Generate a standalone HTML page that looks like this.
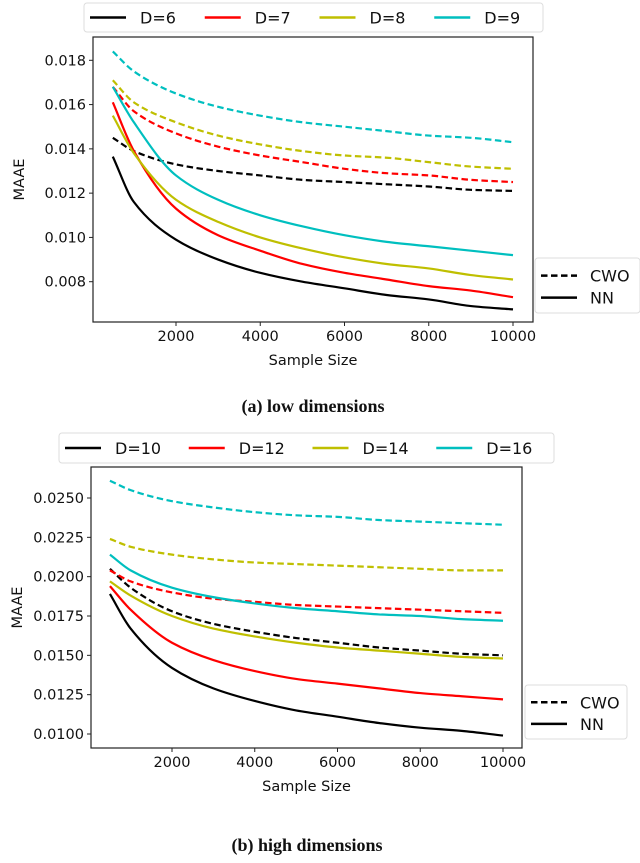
<!DOCTYPE html>
<html><head><meta charset="utf-8"><style>
html,body{margin:0;padding:0;background:#fff;}
body{width:640px;height:858px;overflow:hidden;}
svg text{font-family:"DejaVu Sans","Liberation Sans",sans-serif;}
.cap{font-family:"Liberation Serif",serif;font-weight:bold;font-size:18px;}
</style></head><body>
<svg id="svg" width="640" height="858" viewBox="0 0 640 858" xmlns="http://www.w3.org/2000/svg"></svg>
<script>
const xCats=[500,1000,2000,3000,4000,5000,6000,7000,8000,9000,10000];
const xTicks=[2000,4000,6000,8000,10000];
const colors=["#000000","#ff0000","#bfbf00","#00bfbf"];
// Chart (a)
const aLabels=["D=6","D=7","D=8","D=9"];
const aTicks=[0.008,0.010,0.012,0.014,0.016,0.018];
const aNN6=[0.01365,0.0116,0.0099,0.0090,0.0084,0.0080,0.0077,0.0074,0.0072,0.0069,0.00675];
const aNN7=[0.0161,0.0139,0.0113,0.0101,0.0094,0.0088,0.0084,0.0081,0.0078,0.0076,0.0073];
const aNN8=[0.0155,0.0138,0.0117,0.0107,0.0100,0.0095,0.0091,0.0088,0.0086,0.0083,0.0081];
const aNN9=[0.0168,0.0152,0.0128,0.0117,0.0110,0.0105,0.0101,0.0098,0.0096,0.0094,0.0092];
const aCWO6=[0.0145,0.0139,0.0133,0.0130,0.0128,0.0126,0.0125,0.0124,0.0123,0.01215,0.0121];
const aCWO7=[0.0168,0.0157,0.0147,0.0141,0.0137,0.0134,0.0131,0.0129,0.0128,0.0126,0.0125];
const aCWO8=[0.0171,0.0161,0.0152,0.0146,0.0142,0.0139,0.0137,0.0136,0.0134,0.0132,0.0131];
const aCWO9=[0.0184,0.0175,0.0165,0.0159,0.0155,0.0152,0.0150,0.0148,0.0146,0.0145,0.0143];
// Chart (b)
const bLabels=["D=10","D=12","D=14","D=16"];
const bTicks=[0.0100,0.0125,0.0150,0.0175,0.0200,0.0225,0.0250];
const bNN10=[0.0189,0.0167,0.0142,0.0129,0.0121,0.0115,0.0111,0.0107,0.0104,0.0102,0.0099];
const bNN12=[0.0194,0.0179,0.0158,0.0147,0.0140,0.0135,0.0132,0.0129,0.0126,0.0124,0.0122];
const bNN14=[0.0197,0.0188,0.0175,0.0167,0.0162,0.0158,0.0155,0.0153,0.0151,0.0149,0.0148];
const bNN16=[0.0214,0.0204,0.0193,0.0187,0.0183,0.0180,0.0178,0.0176,0.0175,0.0173,0.0172];
const bCWO10=[0.0205,0.0193,0.0178,0.0170,0.0165,0.0161,0.0158,0.0155,0.0153,0.0151,0.0150];
const bCWO12=[0.0204,0.0197,0.0190,0.0186,0.0184,0.0182,0.0181,0.0180,0.0179,0.0178,0.0177];
const bCWO14=[0.0224,0.0219,0.0214,0.0211,0.0209,0.0208,0.0207,0.0206,0.0205,0.0204,0.0204];
const bCWO16=[0.0261,0.0255,0.0248,0.0244,0.0241,0.0239,0.0238,0.0236,0.0235,0.0234,0.0233];

const NS="http://www.w3.org/2000/svg";
const svg=document.getElementById('svg');
function mk(tag,attrs,parent,text){const e=document.createElementNS(NS,tag);for(const k in attrs)e.setAttribute(k,attrs[k]);if(text!==undefined)e.textContent=text;(parent||svg).appendChild(e);return e;}
// monotone cubic (Fritsch-Carlson)
function pathD(pts){
  const n=pts.length, dx=[], m=[], t=new Array(n);
  for(let i=0;i<n-1;i++){dx.push(pts[i+1][0]-pts[i][0]);m.push((pts[i+1][1]-pts[i][1])/dx[i]);}
  t[0]=m[0];t[n-1]=m[n-2];
  for(let i=1;i<n-1;i++){ if(m[i-1]*m[i]<=0)t[i]=0; else {const w1=2*dx[i]+dx[i-1],w2=dx[i]+2*dx[i-1];t[i]=(w1+w2)/(w1/m[i-1]+w2/m[i]);} }
  let d="M"+pts[0][0].toFixed(2)+","+pts[0][1].toFixed(2);
  for(let i=0;i<n-1;i++){const h=dx[i]/3;
    d+=" C"+(pts[i][0]+h).toFixed(2)+","+(pts[i][1]+t[i]*h).toFixed(2)+" "+(pts[i+1][0]-h).toFixed(2)+","+(pts[i+1][1]-t[i+1]*h).toFixed(2)+" "+pts[i+1][0].toFixed(2)+","+pts[i+1][1].toFixed(2);}
  return d;}

function chart(cfg){
  const g=mk('g',{});
  
  
  const X=v=>cfg.x0+(v-2000)/8000*(cfg.x1-cfg.x0);
  const Y=v=>cfg.y0+(cfg.v0-v)/(cfg.v0-cfg.v1)*(cfg.y1-cfg.y0);
  cfg.series.forEach((s,i)=>{
    const p=mk('path',{d:pathD(xCats.map((c,j)=>[X(c),Y(s.vals[j])])),fill:'none',stroke:colors[s.c],'stroke-width':2.2,'stroke-dasharray':s.dash?'6.5,3.5':'none','stroke-linecap':'butt'},g);
    
    
  });
  const frame=mk('rect',{x:cfg.L,y:cfg.T,width:cfg.R-cfg.L,height:cfg.B-cfg.T,fill:'none',stroke:'#222','stroke-width':1.2},g);
  
  
  xTicks.forEach(t=>{
    const x=X(t);
    mk('line',{x1:x,x2:x,y1:cfg.B,y2:cfg.B+4,stroke:'#222'},g);
    const tx=mk('text',{x:x,y:cfg.B+19,'text-anchor':'middle','font-size':14.5,fill:'#111'},g,String(t));
    
    
  });
  cfg.ticks.forEach(t=>{
    const y=Y(t);
    mk('line',{x1:cfg.L-4,x2:cfg.L,y1:y,y2:y,stroke:'#222'},g);
    const tx=mk('text',{x:cfg.L-7,y:y+5,'text-anchor':'end','font-size':14.5,fill:'#111'},g,t.toFixed(cfg.dec));
    
    
  });
  const xt=mk('text',{x:(cfg.L+cfg.R)/2,y:cfg.xTitleY,'text-anchor':'middle','font-size':14.5,fill:'#111'},g,'Sample Size');
  
  
  const yt=mk('text',{x:0,y:0,transform:`translate(${cfg.yTitleX},${(cfg.T+cfg.B)/2}) rotate(-90)`,'text-anchor':'middle','font-size':14.5,fill:'#111'},g,'MAAE');
  
  
  const lg=mk('g',{},g);
  
  
  mk('rect',{x:cfg.lg[0],y:cfg.lg[1],width:cfg.lg[2]-cfg.lg[0],height:cfg.lg[3]-cfg.lg[1],rx:3,fill:'#fff',stroke:'#ddd'},lg);
  const step=(cfg.lg[2]-cfg.lg[0])/4;
  cfg.labels.forEach((l,i)=>{
    const x=cfg.lg[0]+6+i*step, y=(cfg.lg[1]+cfg.lg[3])/2;
    const e=mk('g',{},lg);
    
    
    mk('line',{x1:x,x2:x+36,y1:y,y2:y,stroke:colors[i],'stroke-width':2.5},e);
    mk('text',{x:x+50,y:y+6,'font-size':16,fill:'#111'},e,l);
  });
  const sg=mk('g',{},g);
  
  
  const s=cfg.sl;
  mk('rect',{x:s[0],y:s[1],width:s[2]-s[0],height:s[3]-s[1],rx:3,fill:'#fff',stroke:'#ddd'},sg);
  const r1=s[1]+(s[3]-s[1])*0.32, r2=s[1]+(s[3]-s[1])*0.72;
  mk('line',{x1:s[0]+6,x2:s[0]+42,y1:r1,y2:r1,stroke:'#000','stroke-width':2.5,'stroke-dasharray':'6.5,3.5'},sg);
  mk('text',{x:s[0]+55,y:r1+6,'font-size':16,fill:'#111'},sg,'CWO');
  mk('line',{x1:s[0]+6,x2:s[0]+42,y1:r2,y2:r2,stroke:'#000','stroke-width':2.5},sg);
  mk('text',{x:s[0]+55,y:r2+6,'font-size':16,fill:'#111'},sg,'NN');
  const cap=mk('text',{x:cfg.capX,y:cfg.capY,'text-anchor':'middle','class':'cap',fill:'#111'},g,cfg.caption);
  
  
}

chart({name:'chart-low-dimensions',L:93,R:533,T:37,B:322,x0:176,x1:513,y0:60.3,y1:281.7,v0:0.018,v1:0.008,
  ticks:aTicks,dec:3,labels:aLabels,lg:[84,3,543,32],sl:[535,258,640,313],xTitleY:365,yTitleX:24,capX:313,capY:412,caption:'(a) low dimensions',
  series:[
    {name:'d6-cwo',vals:aCWO6,c:0,dash:true},{name:'d7-cwo',vals:aCWO7,c:1,dash:true},{name:'d8-cwo',vals:aCWO8,c:2,dash:true},{name:'d9-cwo',vals:aCWO9,c:3,dash:true},
    {name:'d6-nn',vals:aNN6,c:0},{name:'d7-nn',vals:aNN7,c:1},{name:'d8-nn',vals:aNN8,c:2},{name:'d9-nn',vals:aNN9,c:3}]});
chart({name:'chart-high-dimensions',L:91,R:522,T:467,B:748,x0:172,x1:503,y0:734,y1:498,v0:0.0100,v1:0.0250,
  ticks:bTicks,dec:4,labels:bLabels,lg:[59,433,554,463],sl:[525,685,627,739],xTitleY:791,yTitleX:22,capX:307,capY:851,caption:'(b) high dimensions',
  series:[
    {name:'d10-cwo',vals:bCWO10,c:0,dash:true},{name:'d12-cwo',vals:bCWO12,c:1,dash:true},{name:'d14-cwo',vals:bCWO14,c:2,dash:true},{name:'d16-cwo',vals:bCWO16,c:3,dash:true},
    {name:'d10-nn',vals:bNN10,c:0},{name:'d12-nn',vals:bNN12,c:1},{name:'d14-nn',vals:bNN14,c:2},{name:'d16-nn',vals:bNN16,c:3}]});
</script>
</body></html>
